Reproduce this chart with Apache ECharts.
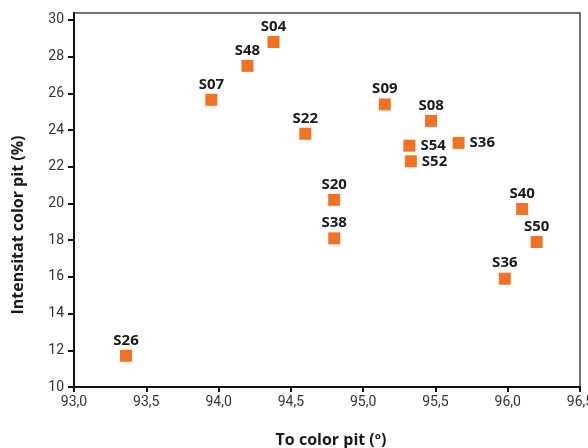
<!DOCTYPE html>
<html>
<head>
<meta charset="utf-8">
<script src="https://cdn.jsdelivr.net/npm/echarts@6/dist/echarts.min.js"></script>
<style>
  html, body { margin: 0; padding: 0; background: #fff; }
  #chart { width: 588px; height: 448px; }
</style>
</head>
<body>
<div id="chart"></div>
<script>
// Samples: hue angle of the pit colour vs. its intensity
const samples = ['S04', 'S48', 'S07', 'S22', 'S09', 'S08', 'S20', 'S38', 'S40', 'S54', 'S52', 'S36', 'S50', 'S36', 'S26'];
const hue = [94.38, 94.2, 93.95, 94.6, 95.15, 95.47, 94.8, 94.8, 96.1, 95.32, 95.33, 95.66, 96.2, 95.98, 93.36];
const intensity = [28.8, 27.5, 25.65, 23.8, 25.4, 24.5, 20.2, 18.1, 19.7, 23.15, 22.3, 23.3, 17.9, 15.9, 11.7];
const yTicks = [10, 12, 14, 16, 18, 20, 22, 24, 26, 28, 30];

// Points whose name sits to the right of the marker instead of above it
const sideLabelled = new Set([9, 10, 11]);

const points = samples.map((name, i) => ({
  name: name,
  value: [hue[i], intensity[i]],
  label: sideLabelled.has(i)
    ? { position: 'right', distance: 5 }
    : { position: 'top', distance: 2 }
}));

const tickFont = { fontFamily: 'Roboto, sans-serif', fontSize: 14, color: '#333' };
const titleFont = { fontFamily: '"Open Sans", sans-serif', fontWeight: 'bold', fontSize: 16, color: '#1a1a1a' };

const chart = echarts.init(document.getElementById('chart'), null, { renderer: 'canvas' });
chart.setOption({
  animation: false,
  backgroundColor: '#fff',
  grid: {
    left: 74, right: 8, top: 13, bottom: 61,
    outerBoundsMode: 'none',
    containLabel: false,
    show: true, borderColor: '#444', borderWidth: 1.5, backgroundColor: 'transparent'
  },
  xAxis: {
    type: 'value',
    min: 93, max: 96.5, interval: 0.5,
    name: 'To color pit (º)',
    nameLocation: 'middle', nameGap: 45,
    nameTextStyle: Object.assign({ padding: [0, 0, 0, 8] }, titleFont),
    splitLine: { show: false },
    axisLine: { show: true, onZero: false, lineStyle: { color: '#111', width: 2 } },
    axisTick: { show: true, length: 5, lineStyle: { color: '#111', width: 2 } },
    axisLabel: Object.assign({ margin: 8, formatter: v => v.toFixed(1).replace('.', ',') }, tickFont)
  },
  yAxis: {
    type: 'value',
    min: 10, max: 30.38,
    name: 'Intensitat color pit (%)',
    nameLocation: 'middle', nameGap: 48, nameRotate: 90,
    nameTextStyle: Object.assign({ padding: [0, 50, 0, 0] }, titleFont),
    splitLine: { show: false },
    axisLine: { show: true, onZero: false, lineStyle: { color: '#111', width: 2 } },
    axisTick: { show: true, length: 6, customValues: yTicks, lineStyle: { color: '#111', width: 2 } },
    axisLabel: Object.assign({ margin: 10, customValues: yTicks }, tickFont)
  },
  series: [{
    type: 'scatter',
    symbol: 'rect',
    symbolSize: 12,
    itemStyle: { color: '#F07222', opacity: 1 },
    label: {
      show: true,
      formatter: p => p.name,
      fontFamily: '"Open Sans", sans-serif',
      fontWeight: 'bold',
      fontSize: 15,
      color: '#1a1a1a'
    },
    data: points
  }]
});
</script>
</body>
</html>
